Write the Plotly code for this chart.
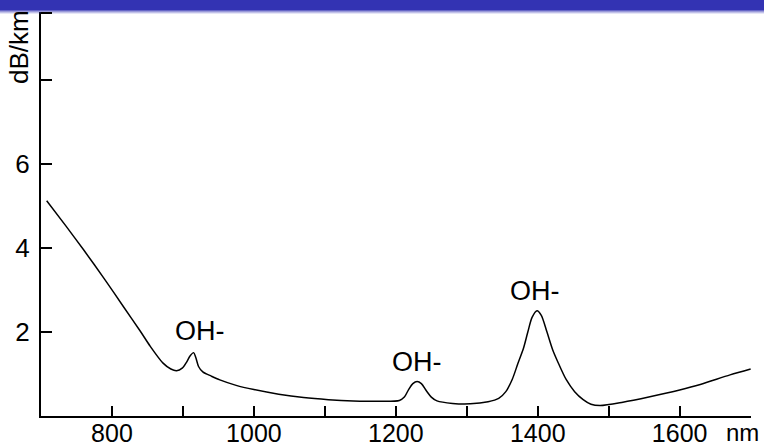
import plotly.graph_objects as go

# Data (wavelength in nm, attenuation in dB/km)
wavelength = [708, 735, 760, 790, 816, 840, 854, 872, 883, 891, 899, 905, 910, 915, 918, 922, 928,
              940, 952, 975, 1000, 1035, 1070, 1105, 1140, 1180, 1205, 1212, 1218, 1224, 1230,
              1236, 1243, 1250, 1258, 1280, 1305, 1330, 1345, 1355, 1364, 1372, 1380, 1386, 1392,
              1399, 1405, 1413, 1421, 1428, 1440, 1452, 1464, 1475, 1488, 1520, 1558, 1600, 1629,
              1671, 1700]
attenuation = [5.13, 4.53, 3.96, 3.25, 2.61, 2.02, 1.66, 1.26, 1.12, 1.08, 1.14, 1.28, 1.43, 1.51, 1.40, 1.18, 1.05,
               0.95, 0.86, 0.73, 0.63, 0.52, 0.44, 0.39, 0.36, 0.35, 0.37, 0.45, 0.63, 0.77, 0.82,
               0.77, 0.60, 0.45, 0.36, 0.30, 0.29, 0.34, 0.42, 0.58, 0.87, 1.25, 1.62, 2.00, 2.35,
               2.51, 2.40, 2.00, 1.58, 1.30, 0.87, 0.58, 0.39, 0.28, 0.25, 0.33, 0.46, 0.62, 0.75,
               0.98, 1.12]

x_tick_vals = [800, 900, 1000, 1100, 1200, 1300, 1400, 1500, 1600, 1700]
x_tick_text = ["800", "", "1000", "", "1200", "", "1400", "", "1600", ""]
y_tick_vals = [2, 4, 6, 8]
y_tick_text = ["2", "4", "6", ""]

peak_labels = ["OH-", "OH-", "OH-"]
peak_label_x = [924, 1230, 1396]
peak_label_y = [2.03, 1.29, 2.98]

FONT = "Liberation Sans, Arial, sans-serif"

W, H = 764, 447
left_px, right_px = 41, 750.7
top_px, bot_px = 12, 416.3
plot_w = right_px - left_px
plot_h = bot_px - top_px


def px2paper_x(px):
    return (px - left_px) / plot_w


def py2paper(py):
    return (bot_px - py) / plot_h


fig = go.Figure()
fig.add_trace(go.Scatter(
    x=wavelength, y=attenuation, mode="lines",
    line=dict(color="black", width=1.5, shape="spline", smoothing=0.8),
    hoverinfo="skip", showlegend=False,
))

annotations = []
for t, xx, yy in zip(peak_labels, peak_label_x, peak_label_y):
    annotations.append(dict(x=xx, y=yy, xref="x", yref="y", text=t, showarrow=False,
                            font=dict(family=FONT, size=27, color="black"),
                            xanchor="center", yanchor="middle"))
annotations.append(dict(x=px2paper_x(742), y=py2paper(433), xref="paper", yref="paper", text="nm",
                        showarrow=False, borderpad=0,
                        font=dict(family=FONT, size=24, color="black"),
                        xanchor="center", yanchor="middle"))
annotations.append(dict(x=px2paper_x(19), y=py2paper(47), xref="paper", yref="paper", text="dB/km",
                        showarrow=False, textangle=-90,
                        font=dict(family=FONT, size=26, color="black"),
                        xanchor="center", yanchor="middle"))

shapes = [
    dict(type="rect", xref="paper", yref="paper", x0=-0.1, x1=1.1,
         y0=py2paper(10), y1=py2paper(-2), fillcolor="rgb(51,51,179)", line=dict(width=0), layer="above"),
]
for i, a in enumerate([0.75, 0.5, 0.3, 0.12]):
    shapes.append(dict(type="rect", xref="paper", yref="paper", x0=-0.1, x1=1.1,
                       y0=py2paper(11 + i), y1=py2paper(10 + i),
                       fillcolor=f"rgba(51,51,179,{a})", line=dict(width=0), layer="above"))
shapes.append(dict(type="line", xref="paper", yref="paper", x0=0, x1=11 / plot_w,
                   y0=py2paper(13), y1=py2paper(13), line=dict(color="black", width=2)))

fig.update_layout(
    width=W, height=H,
    margin=dict(l=left_px, r=W - right_px, t=top_px, b=H - bot_px, autoexpand=False),
    paper_bgcolor="white", plot_bgcolor="white",
    font=dict(family=FONT, size=26, color="black"),
    annotations=annotations,
    shapes=shapes,
    xaxis=dict(range=[700, 1700.5], tickvals=x_tick_vals, ticktext=x_tick_text,
               ticks="inside", ticklen=10, tickwidth=2, tickcolor="black",
               showline=True, linecolor="black", linewidth=2, showgrid=False, zeroline=False,
               automargin=False,
               tickfont=dict(family=FONT, size=25, color="black"), ticklabelstandoff=-6),
    yaxis=dict(range=[0, plot_h / 42.0], tickvals=y_tick_vals, ticktext=y_tick_text,
               ticks="inside", ticklen=11, tickwidth=2, tickcolor="black",
               showline=True, linecolor="black", linewidth=2, showgrid=False, zeroline=False,
               automargin=False,
               tickfont=dict(family=FONT, size=26, color="black"), ticklabelstandoff=4),
)

fig.write_html(
    "out.html",
    config={"displayModeBar": False},
    post_script="document.body.style.margin='0';document.body.style.overflow='hidden';",
)
